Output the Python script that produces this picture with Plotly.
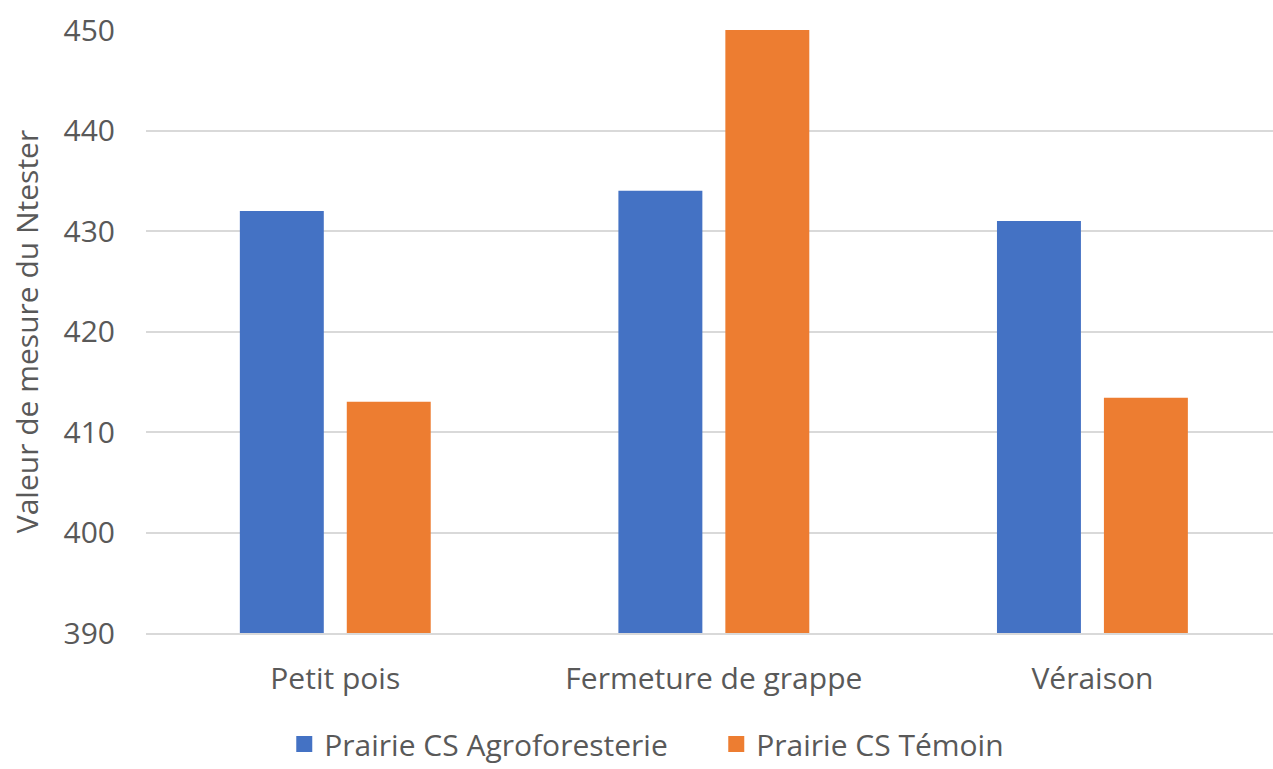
import plotly.graph_objects as go

categories = ["Petit pois", "Fermeture de grappe", "Véraison"]
agroforesterie = [432, 434, 431]
temoin = [413, 450, 413.4]
series_names = ["Prairie CS Agroforesterie", "Prairie CS Témoin"]
series_colors = ["#4472C4", "#ED7D31"]
y_title = "Valeur de mesure du Ntester"

FONT = "Open Sans"
TXT = "#595959"

fig = go.Figure()
for name, vals, col in zip(series_names, [agroforesterie, temoin], series_colors):
    fig.add_trace(go.Bar(x=categories, y=vals, name=name, legendgroup=name, showlegend=False,
                         marker=dict(color=col, line=dict(width=0))))
# legend entries with larger square swatches
for name, col in zip(series_names, series_colors):
    fig.add_trace(go.Scatter(x=[None], y=[None], mode="markers", name=name, legendgroup=name,
                             marker=dict(symbol="square", size=19, color=col), showlegend=True))

fig.update_layout(
    width=1273, height=769,
    margin=dict(l=146, r=0, t=30, b=136, autoexpand=False),
    paper_bgcolor="white", plot_bgcolor="white",
    font=dict(family=FONT, size=30, color=TXT),
    barmode="group", bargap=0.435, bargroupgap=0.215,
    showlegend=True,
    legend=dict(orientation="h", x=0.506, xanchor="center", y=-0.184, yanchor="middle",
                font=dict(family=FONT, size=30, color=TXT), entrywidth=387,
                itemsizing="trace", bgcolor="rgba(0,0,0,0)"),
)
fig.update_xaxes(
    range=[-0.5, 2.477], showgrid=False, showline=True, linecolor="#D9D9D9", linewidth=2,
    ticks="", ticklabelstandoff=18, automargin=False,
    tickfont=dict(family=FONT, size=30, color=TXT),
)
fig.update_yaxes(
    range=[390, 450], dtick=10, tick0=390, showgrid=True, gridcolor="#D9D9D9", gridwidth=2,
    zeroline=False, showline=False, ticks="", ticklabelstandoff=30, automargin=False,
    tickfont=dict(family=FONT, size=30, color=TXT),
    title=dict(text=y_title, font=dict(family=FONT, size=30, color=TXT), standoff=16),
)

fig.write_html("out.html", config={"displayModeBar": False},
               post_script="document.body.style.margin='0';document.body.style.overflow='hidden';")
